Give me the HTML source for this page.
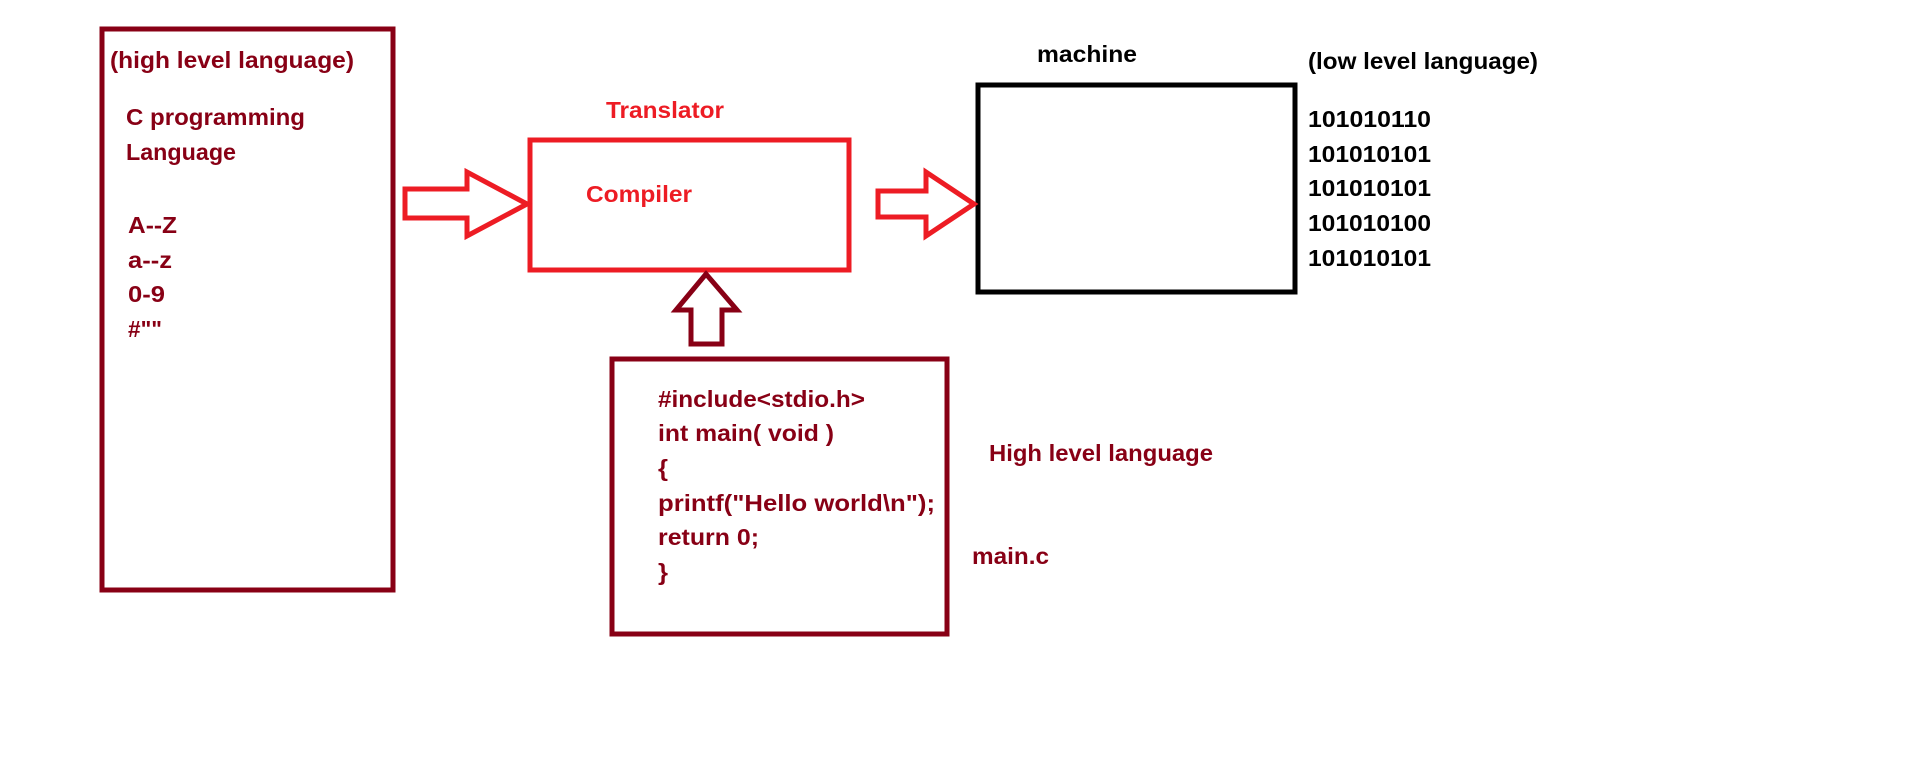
<!DOCTYPE html>
<html><head><meta charset="utf-8"><style>
html,body{margin:0;padding:0;background:#fff;width:1910px;height:772px;overflow:hidden}
text{font-family:"Liberation Sans",sans-serif;font-weight:bold;font-size:23px}
.d{fill:#880015}.r{fill:#ed1c24}.k{fill:#000}
</style></head><body>
<svg width="1910" height="772" viewBox="0 0 1910 772" xmlns="http://www.w3.org/2000/svg">
<g fill="none" stroke-linejoin="miter">
<rect x="102" y="29" width="291" height="561" stroke="#880015" stroke-width="5"/>
<rect x="530" y="140" width="319" height="130" stroke="#ed1c24" stroke-width="5"/>
<rect x="978" y="85" width="317" height="207" stroke="#000" stroke-width="5"/>
<rect x="612" y="359" width="335" height="275" stroke="#880015" stroke-width="5"/>
<polygon points="405,189 467,189 467,172 527,204 467,236 467,218 405,218" stroke="#ed1c24" stroke-width="5"/>
<polygon points="878,191 926,191 926,172 974,204 926,236 926,217 878,217" stroke="#ed1c24" stroke-width="5"/>
<polygon points="706,274 737,310 722,310 722,344 691,344 691,310 676,310" stroke="#880015" stroke-width="5"/>
</g>
<text class="d" x="110" y="68" textLength="244" lengthAdjust="spacingAndGlyphs">(high level language)</text>
<text class="d" x="126" y="125" textLength="179" lengthAdjust="spacingAndGlyphs">C programming</text>
<text class="d" x="126" y="160" textLength="110" lengthAdjust="spacingAndGlyphs">Language</text>
<text class="d" x="128" y="233" textLength="49" lengthAdjust="spacingAndGlyphs">A--Z</text>
<text class="d" x="128" y="268" textLength="44" lengthAdjust="spacingAndGlyphs">a--z</text>
<text class="d" x="128" y="302" textLength="37" lengthAdjust="spacingAndGlyphs">0-9</text>
<text class="d" x="128" y="337" textLength="34" lengthAdjust="spacingAndGlyphs">#""</text>
<text class="r" x="606" y="118" textLength="118" lengthAdjust="spacingAndGlyphs">Translator</text>
<text class="r" x="586" y="202" textLength="106" lengthAdjust="spacingAndGlyphs">Compiler</text>
<text class="k" x="1037" y="62" textLength="100" lengthAdjust="spacingAndGlyphs">machine</text>
<text class="k" x="1308" y="69" textLength="230" lengthAdjust="spacingAndGlyphs">(low level language)</text>
<text class="k" x="1308" y="127" textLength="123" lengthAdjust="spacingAndGlyphs">101010110</text>
<text class="k" x="1308" y="162" textLength="123" lengthAdjust="spacingAndGlyphs">101010101</text>
<text class="k" x="1308" y="196" textLength="123" lengthAdjust="spacingAndGlyphs">101010101</text>
<text class="k" x="1308" y="231" textLength="123" lengthAdjust="spacingAndGlyphs">101010100</text>
<text class="k" x="1308" y="266" textLength="123" lengthAdjust="spacingAndGlyphs">101010101</text>
<text class="d" x="658" y="407" textLength="207" lengthAdjust="spacingAndGlyphs">#include&lt;stdio.h&gt;</text>
<text class="d" x="658" y="441" textLength="176" lengthAdjust="spacingAndGlyphs">int main( void )</text>
<text class="d" x="658" y="476" textLength="10" lengthAdjust="spacingAndGlyphs">{</text>
<text class="d" x="658" y="511" textLength="277" lengthAdjust="spacingAndGlyphs">printf("Hello world\n");</text>
<text class="d" x="658" y="545" textLength="101" lengthAdjust="spacingAndGlyphs">return 0;</text>
<text class="d" x="658" y="580" textLength="10" lengthAdjust="spacingAndGlyphs">}</text>
<text class="d" x="989" y="461" textLength="224" lengthAdjust="spacingAndGlyphs">High level language</text>
<text class="d" x="972" y="564" textLength="77" lengthAdjust="spacingAndGlyphs">main.c</text>
</svg>
</body></html>
